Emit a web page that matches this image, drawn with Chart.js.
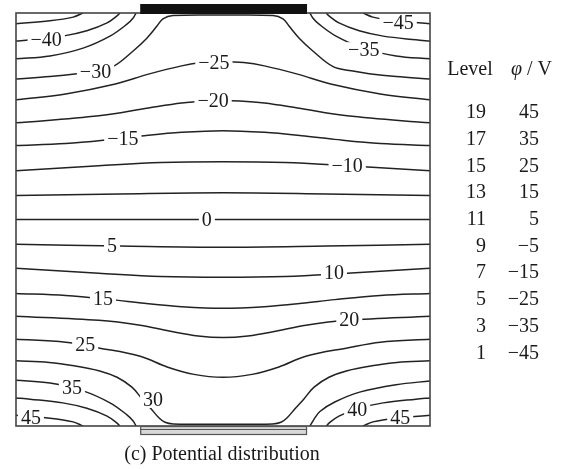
<!DOCTYPE html>
<html>
<head>
<meta charset="utf-8">
<script src="https://cdn.jsdelivr.net/npm/chart.js@4"></script>
<style>
  html, body { margin: 0; padding: 0; background: #fff; }
</style>
</head>
<body>
<canvas id="potentialChart" width="566" height="469"></canvas>
<script>
// Equipotential lines, domain 0..100 (x left->right, y bottom->top).
// Each level is a list of segments, each segment a list of [x, y] points.
const lineM45 = [[[0, 97.4], [8.2, 98.1], [13.8, 99.0], [16.2, 100]],
                 [[83.8, 100], [86.2, 99.0], [91.8, 98.1], [100, 97.4]]];
const lineM40 = [[[0, 93.2], [3.4, 93.5], [11.3, 94.4], [17.1, 95.7], [22, 97.6], [24.4, 99.3], [25.1, 100]],
                 [[74.9, 100], [75.6, 99.3], [78, 97.6], [82.9, 95.7], [88.7, 94.4], [96.6, 93.5], [100, 93.2]]];
const lineM35 = [[[0, 88.9], [8.2, 89.6], [16.2, 91.5], [22.7, 94.4], [26.8, 97.3], [28.3, 98.8], [29, 100]],
                 [[71, 100], [71.7, 98.8], [73.2, 97.3], [77.3, 94.4], [83.8, 91.5], [91.8, 89.6], [100, 88.9]]];
const lineM30 = [[[0, 84.0], [8.2, 84.6], [14.7, 85.3], [19, 86], [23.4, 87.0], [28.3, 90.8], [31.6, 93.9],
                  [34.1, 96.9], [35.5, 98.6], [37.9, 99.4], [50, 99.5], [62.1, 99.4], [64.5, 98.6],
                  [65.9, 96.9], [68.4, 93.9], [71.7, 90.8], [76.6, 87.0], [81, 86], [85.3, 85.3],
                  [91.8, 84.6], [100, 84.0]]];
const lineM25 = [[[0, 79.0], [12, 80.4], [24, 82.8], [32, 85.2], [40, 87.2], [45, 88.0], [50, 88.2],
                  [55, 88.0], [60, 87.2], [68, 85.2], [76, 82.8], [88, 80.4], [100, 79.0]]];
const lineM20 = [[[0, 73.4], [20, 75.1], [32, 77.0], [40, 78.2], [46, 78.7], [50, 78.8], [54, 78.7],
                  [60, 78.2], [68, 77.0], [80, 75.1], [100, 73.4]]];
const lineM15 = [[[0, 67.9], [12, 68.4], [23, 69.4], [31, 70.3], [40, 71.1], [50, 71.5], [60, 71.1],
                  [69, 70.3], [77, 69.4], [88, 68.4], [100, 67.9]]];
const lineM10 = [[[0, 61.8], [20, 63.0], [35, 63.8], [50, 64.0], [65, 63.8], [80, 63.0], [100, 61.8]]];
const lineM5 = [[[0, 55.8], [25, 56.2], [50, 56.5], [75, 56.2], [100, 55.8]]];
const line0 = [[[0, 50], [50, 50], [100, 50]]];
const line5 = [[[0, 44.0], [25, 43.6], [50, 43.3], [75, 43.6], [100, 44.0]]];
const line10 = [[[0, 38.2], [20, 37.0], [35, 36.2], [50, 36.0], [65, 36.2], [80, 37.0], [100, 38.2]]];
const line15 = [[[0, 32.1], [12, 31.6], [23, 30.6], [31, 29.7], [40, 28.9], [50, 28.5], [60, 28.9],
                 [69, 29.7], [77, 30.6], [88, 31.6], [100, 32.1]]];
const line20 = [[[0, 26.6], [20, 25.6], [30, 24.4], [37, 23.0], [44, 21.8], [50, 21.4], [56, 21.8],
                 [63, 23.0], [70, 24.4], [80, 25.6], [100, 26.6]]];
const line25 = [[[0, 21.0], [12, 20.3], [20, 18.9], [30, 16.9], [36.5, 14.3], [43, 12.5], [50, 11.8],
                 [57, 12.5], [63.5, 14.3], [70, 16.9], [80, 18.9], [88, 20.3], [100, 21.0]]];
const line30 = [[[0, 15.8], [8, 15.4], [14, 14.6], [20, 13.4], [24.4, 11.8], [28, 9.4], [30.5, 6.5],
                 [32.5, 4.3], [34.5, 2.0], [36, 0.9], [38, 0.5], [50, 0.4], [62, 0.5], [64, 0.9],
                 [65.5, 2.0], [67.5, 4.3], [69.5, 6.5], [72, 9.4], [75.6, 11.8], [80, 13.4],
                 [86, 14.6], [92, 15.4], [100, 15.8]]];
const line35 = [[[0, 11.1], [8.2, 10.4], [16.2, 8.5], [22.7, 5.6], [26.8, 2.7], [28.3, 1.2], [29, 0]],
                [[71, 0], [71.9, 1.5], [73.4, 3.5], [77, 5.8], [83, 8.2], [91.8, 10.0], [100, 10.9]]];
const line40 = [[[0, 6.8], [3.4, 6.5], [11.3, 5.6], [17.1, 4.3], [22, 2.4], [24.4, 0.7], [25.1, 0]],
                [[75, 0], [75.6, 0.7], [78, 2.4], [82.9, 4.3], [88.7, 5.6], [96.6, 6.5], [100, 6.8]]];
const line45 = [[[0, 2.6], [8.2, 1.9], [13.8, 1.0], [16.2, 0]],
                [[83.8, 0], [86.2, 1.0], [91.8, 1.9], [100, 2.6]]];

const allLines = [lineM45, lineM40, lineM35, lineM30, lineM25, lineM20, lineM15, lineM10, lineM5,
                  line0, line5, line10, line15, line20, line25, line30, line35, line40, line45];

// Inline contour labels
const labelText = ['\u221245', '\u221240', '\u221235', '\u221230', '\u221225', '\u221220', '\u221215',
                   '\u221210', '0', '5', '10', '15', '20', '25', '30', '35', '40', '45', '45'];
const labelX = [92.3, 7.3, 84, 19.2, 47.8, 47.6, 25.8, 80, 46.1, 23.2, 76.8, 21, 80.5, 16.7, 33.1, 13.5, 82.4, 3.6, 92.8];
const labelY = [97.6, 93.6, 91.0, 85.8, 88.0, 78.7, 69.6, 63.0, 50, 43.7, 37.1, 30.9, 25.7, 19.6, 6.3, 9.3, 4.0, 2.0, 2.0];

// Level table on the right
const tableLevels = ['19', '17', '15', '13', '11', '9', '7', '5', '3', '1'];
const tableValues = ['45', '35', '25', '15', '5', '\u22125', '\u221215', '\u221225', '\u221235', '\u221245'];

// Electrodes (x extent in domain units)
const topElectrode = [30, 70.3];
const bottomElectrode = [30, 70.3];

const FONT = '"Liberation Serif", "Times New Roman", serif';

const datasets = [];
allLines.forEach(segs => {
    segs.forEach(seg => {
        datasets.push({
            data: seg.map(p => ({ x: p[0], y: p[1] })),
            showLine: true,
            borderColor: '#222',
            borderWidth: 1.5,
            pointRadius: 0,
            tension: 0.35,
            fill: false
        });
    });
});

const annotate = {
    id: 'annotate',
    afterDatasetsDraw(chart) {
        const { ctx, chartArea: a, scales: { x, y } } = chart;
        ctx.save();
        ctx.font = '20px ' + FONT;
        ctx.textAlign = 'center';
        ctx.textBaseline = 'middle';
        labelText.forEach((t, i) => {
            const px = x.getPixelForValue(labelX[i]);
            const py = y.getPixelForValue(labelY[i]);
            const w = ctx.measureText(t).width;
            ctx.fillStyle = '#fff';
            ctx.fillRect(px - w / 2 - 3, py - 8, w + 6, 16);
            ctx.fillStyle = '#1a1a1a';
            ctx.fillText(t, px, py + 1);
        });

        // frame
        ctx.strokeStyle = '#444';
        ctx.lineWidth = 1.6;
        ctx.strokeRect(a.left, a.top, a.right - a.left, a.bottom - a.top);

        // top electrode
        const t0 = x.getPixelForValue(topElectrode[0]);
        const t1 = x.getPixelForValue(topElectrode[1]);
        ctx.fillStyle = '#111';
        ctx.fillRect(t0, a.top - 9, t1 - t0, 10);

        // bottom electrode
        const b0 = x.getPixelForValue(bottomElectrode[0]);
        const b1 = x.getPixelForValue(bottomElectrode[1]);
        ctx.fillStyle = '#d8d8d8';
        ctx.fillRect(b0, a.bottom, b1 - b0, 8);
        ctx.strokeStyle = '#555';
        ctx.lineWidth = 1.2;
        ctx.strokeRect(b0 + 0.5, a.bottom + 0.5, b1 - b0 - 1, 8);
        ctx.beginPath();
        ctx.moveTo(b0, a.bottom + 3.5);
        ctx.lineTo(b1, a.bottom + 3.5);
        ctx.stroke();
        ctx.restore();
    },
    afterDraw(chart) {
        const ctx = chart.ctx;
        ctx.save();
        ctx.fillStyle = '#1a1a1a';
        ctx.textBaseline = 'middle';
        ctx.font = '20px ' + FONT;

        // table header
        ctx.textAlign = 'center';
        ctx.fillText('Level', 470, 70);
        ctx.textAlign = 'left';
        ctx.font = 'italic 20px ' + FONT;
        ctx.fillText('\u03c6', 511, 70);
        const phiW = ctx.measureText('\u03c6').width;
        ctx.font = '20px ' + FONT;
        ctx.fillText(' / V', 511 + phiW, 70);

        // table rows
        ctx.textAlign = 'right';
        tableLevels.forEach((lv, i) => {
            const ry = 113 + i * 26.7;
            ctx.fillText(lv, 486, ry);
            ctx.fillText(tableValues[i], 539, ry);
        });

        // caption
        ctx.textAlign = 'center';
        ctx.fillText('(c) Potential distribution', 222, 455);
        ctx.restore();
    }
};

const ctx = document.getElementById('potentialChart').getContext('2d');
new Chart(ctx, {
    type: 'scatter',
    data: { datasets: datasets },
    options: {
        responsive: false,
        animation: false,
        layout: { padding: { left: 16, top: 13, right: 136, bottom: 43 } },
        plugins: {
            legend: { display: false },
            tooltip: { enabled: false }
        },
        scales: {
            x: { type: 'linear', min: 0, max: 100, display: false },
            y: { type: 'linear', min: 0, max: 100, display: false }
        }
    },
    plugins: [annotate]
});
</script>
</body>
</html>
